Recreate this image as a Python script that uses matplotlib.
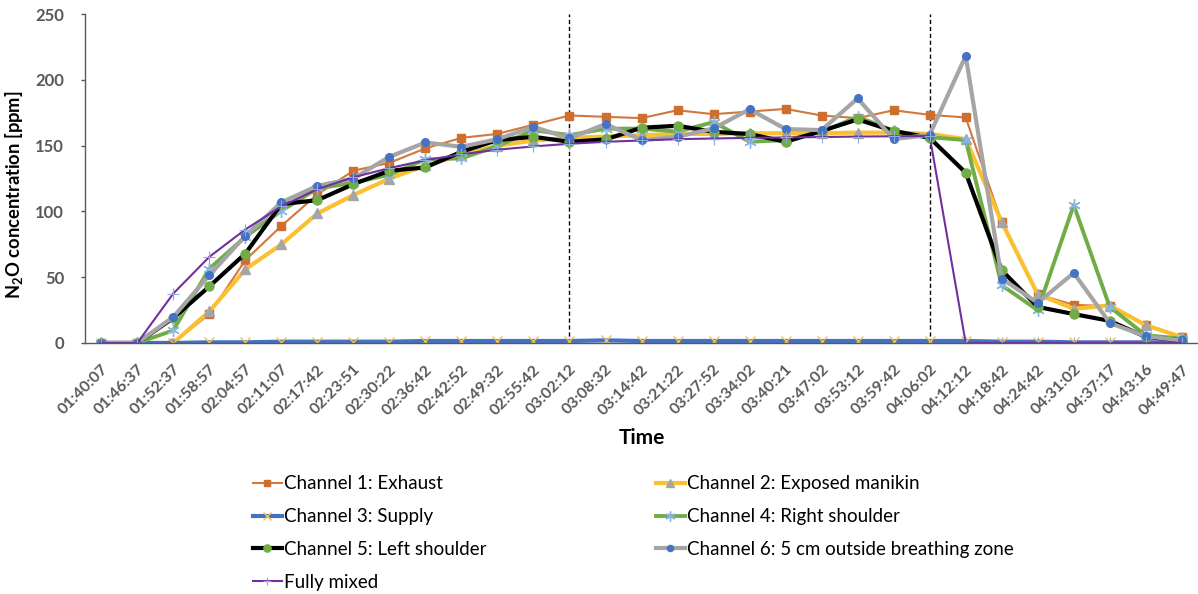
import matplotlib
matplotlib.use("Agg")
import matplotlib.pyplot as plt
import numpy as np

times = ["01:40:07", "01:46:37", "01:52:37", "01:58:57", "02:04:57", "02:11:07", "02:17:42",
         "02:23:51", "02:30:22", "02:36:42", "02:42:52", "02:49:32", "02:55:42", "03:02:12",
         "03:08:32", "03:14:42", "03:21:22", "03:27:52", "03:34:02", "03:40:21", "03:47:02",
         "03:53:12", "03:59:42", "04:06:02", "04:12:12", "04:18:42", "04:24:42", "04:31:02",
         "04:37:17", "04:43:16", "04:49:47"]

ch1_exhaust = [0, 0, 0, 22, 63, 89, 113, 131, 137, 148, 156, 159, 166, 173, 172, 171, 177, 174,
               176, 178, 173, 171, 177, 173.5, 171.5, 92, 37, 29, 28, 13.5, 4.5]
ch2_manikin = [0, 0, 0, 24, 56, 75, 98.5, 112.5, 125, 135, 143, 150, 154, 156, 157, 158, 159, 159,
               159.5, 159.5, 159.5, 160, 160, 159, 155, 92, 37, 26, 28.5, 13.5, 4.5]
ch3_supply = [0, 0, 0, 0.5, 0.5, 1, 1, 1, 1, 1.5, 1.5, 1.5, 1.5, 1.5, 2, 1.5, 1.5, 1.5, 1.5, 1.5,
              1.5, 1.5, 1.5, 1.5, 1.5, 1, 1, 0.5, 0.5, 0.5, 0.5]
ch4_right = [0, 0, 9.6, 56.5, 80.7, 100.5, 117.5, 121.8, 128, 139.6, 140.4, 149.7, 161.9, 158, 163,
             163, 160.7, 168, 153, 154.3, 160.6, 172, 161.4, 156.5, 154.3, 43.9, 24.9, 104.9,
             27.4, 5.9, 3.3]
ch5_left = [0, 0, 19, 43, 68, 105.6, 108.6, 120.8, 131, 133.5, 145.4, 154.3, 156.8, 153, 154.8,
            163.7, 165.2, 160.6, 158.9, 153, 161.2, 170, 161.2, 156, 129.5, 55.3, 27.4, 22, 16.8,
            4.6, 2]
ch6_breathing = [0, 0, 19.8, 51.5, 81.5, 106.9, 119.5, 125.1, 141.6, 152.5, 149.2, 155, 164.4,
                 155.6, 166.5, 154.3, 156.8, 163.2, 177.7, 162.7, 161.9, 186, 155, 158.3, 218.3,
                 49, 30.5, 53.3, 15.2, 5.1, 2]
fully_mixed = [0, 0, 37.6, 65.5, 86.3, 104, 117, 126, 133, 139, 143.5, 147, 149.5, 151.5, 153,
               154, 155, 155.5, 156, 156.3, 156.6, 157, 157.2, 157.5, 0, 0, 0, 0, 0, 0, 0]

phase_marks = ["03:02:12", "04:06:02"]

plt.rcParams['font.family'] = ['Lato', 'DejaVu Sans']
plt.rcParams['mathtext.fontset'] = 'custom'
plt.rcParams['mathtext.rm'] = 'Lato'
plt.rcParams['mathtext.bf'] = 'Lato:bold'

fig = plt.figure(figsize=(11.98, 5.94), dpi=100)
ax = fig.add_axes([0.071, 0.4226, 0.929, 0.5534])

x = np.arange(len(times))

series = [
    (ch1_exhaust, "Channel 1: Exhaust", dict(color="#D2773E", lw=1.5, marker="s", ms=5.5,
                                              mfc="#CF6F2E", mec="#CF6F2E")),
    (ch2_manikin, "Channel 2: Exposed manikin", dict(color="#FBBF32", lw=3.0, marker="^", ms=7,
                                                      mfc="#A5A5A5", mec="#A5A5A5")),
    (ch3_supply, "Channel 3: Supply", dict(color="#4472C4", lw=3.0, marker="x", ms=7, mew=1.0,
                                            mfc="#FFC000", mec="#F2C14E")),
    (ch4_right, "Channel 4: Right shoulder", dict(color="#70AD47", lw=2.8, marker=(6, 2, 0), ms=9,
                                                   mew=1.0, mec="#8DB4E2")),
    (ch5_left, "Channel 5: Left shoulder", dict(color="#000000", lw=3.0, marker="o", ms=6.5,
                                                 mfc="#70AD47", mec="#70AD47")),
    (ch6_breathing, "Channel 6: 5 cm outside breathing zone", dict(color="#A5A5A5", lw=3.0,
                                                                    marker="o", ms=5.5,
                                                                    mfc="#4472C4", mec="#4472C4")),
    (fully_mixed, "Fully mixed", dict(color="#7030A0", lw=1.5, marker="+", ms=8, mew=0.8,
                                      mec="#8EA9DB")),
]

handles = []
for vals, label, kw in series:
    h, = ax.plot(x, vals, label=label, **kw)
    handles.append(h)

for t in phase_marks:
    ax.axvline(times.index(t), color="black", lw=1.0, ls=(0, (3, 2)), zorder=0.5)

ax.set_xlim(-0.45, len(times) - 0.55)
ax.set_ylim(0, 250)
ax.set_yticks(np.arange(0, 251, 50))
ax.set_xticks(x)
ax.set_xticklabels(times, rotation=45, ha="right", rotation_mode="anchor",
                   fontsize=11.5, color="#595959", fontweight="bold")
ax.tick_params(axis="x", length=0, pad=14)
ax.tick_params(axis="y", length=3, width=1, color="#595959", labelsize=12,
               labelcolor="#595959", pad=12)
for lab in ax.get_yticklabels():
    lab.set_fontweight("bold")

for s in ["top", "right"]:
    ax.spines[s].set_visible(False)
ax.spines["left"].set_color("#595959")
ax.spines["bottom"].set_color("#595959")
ax.spines["left"].set_linewidth(1.0)
ax.spines["bottom"].set_linewidth(1.0)

ax.set_ylabel(r"N$_\mathbf{2}$O concentration [ppm]", fontsize=13.2, fontweight="bold")
ax.yaxis.set_label_coords(-0.054, 0.451)
ax.set_xlabel("Time", fontsize=15, fontweight="bold", labelpad=7)

# Excel-like row-wise legend: reorder for matplotlib's column-wise fill
order = [0, 2, 4, 6, 1, 3, 5]
leg = fig.legend([handles[i] for i in order], [handles[i].get_label() for i in order],
                 ncol=2, loc="upper left",
                 bbox_to_anchor=(0.211, 0.1995), frameon=False, fontsize=13.5,
                 handlelength=1.55, handletextpad=0.1, columnspacing=9.05, labelspacing=0.84,
                 borderpad=0, borderaxespad=0)
for lh in leg.legend_handles:
    lh.set_markersize(lh.get_markersize() * 0.8)

fig.savefig("out.png", dpi=100)
